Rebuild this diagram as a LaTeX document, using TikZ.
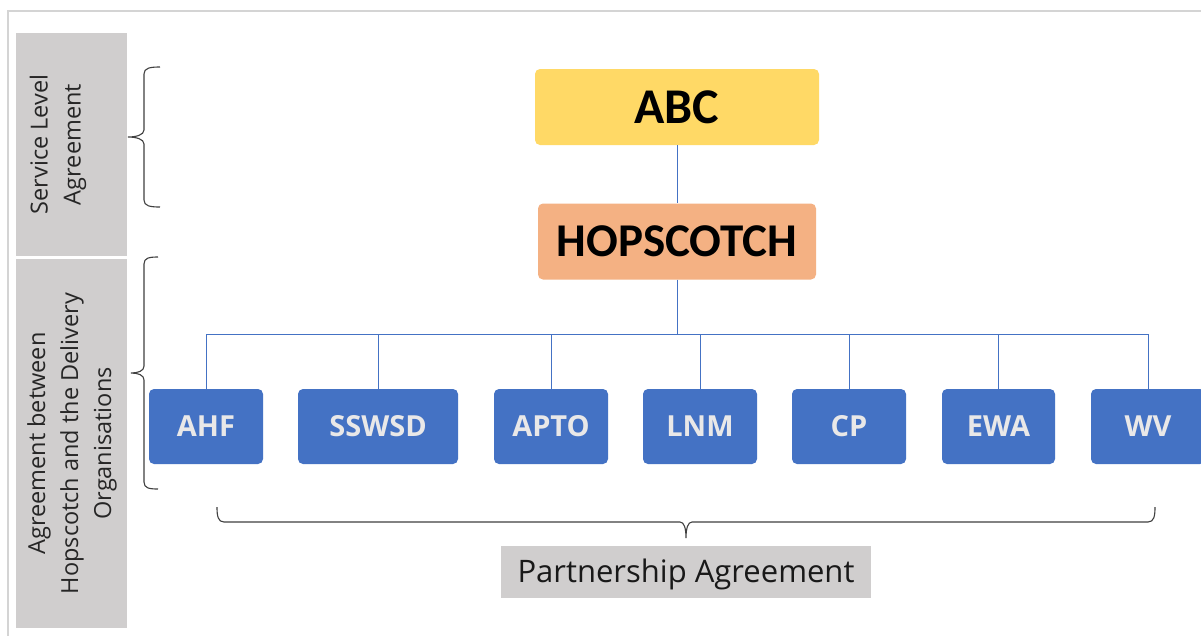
\documentclass[tikz,border=0pt]{standalone}
\usepackage{fontspec}
\setmainfont{Open Sans}
\newfontfamily\calfont{Carlito}
\definecolor{blueC}{HTML}{4472C4}
\definecolor{yellowC}{HTML}{FFD966}
\definecolor{orangeC}{HTML}{F4B183}
\definecolor{grayC}{HTML}{D0CECE}
\definecolor{frameC}{HTML}{D4D4D4}
\definecolor{braceC}{HTML}{404040}
\definecolor{labelC}{HTML}{E9E8E8}
\tikzset{
  topbox/.style={rounded corners=5pt, inner sep=0pt, font=\calfont\bfseries},
  orgbox/.style={rounded corners=5pt, fill=blueC, inner sep=0pt, minimum height=75pt,
     text=labelC, font=\fontsize{29}{31}\selectfont\bfseries},
  sidebox/.style={fill=grayC, inner sep=0pt},
  sidetext/.style={rotate=90, align=center, text=black!85, font=\fontsize{23.5}{33}\selectfont},
  link/.style={draw=blueC, line width=1pt},
  bracep/.style={draw=braceC, line width=1.1pt}
}
\begin{document}
\begin{tikzpicture}[x=1pt,y=-1pt]
\clip (0,0) rectangle (1201,635);
\fill[white] (0,0) rectangle (1201,635);
\draw[frameC, line width=2pt] (8,11) rectangle (1215,650);
% side boxes
\node[sidebox, minimum width=111pt, minimum height=223pt] (sla) at (71,144.5) {};
\node[sidetext] (slat) at (58,144.5) {Service Level\\Agreement};
\node[sidebox, minimum width=111pt, minimum height=369pt] (ado) at (71,443.5) {};
\node[sidetext] (adot) at (72,443.5) {Agreement between\\Hopscotch and the Delivery\\Organisations};
% braces
\draw[bracep] (160,67) .. controls (150,67) and (144,68) .. (144,74) -- (144,130)
  .. controls (144,135) and (136,137) .. (128,137)
  .. controls (136,137) and (144,139) .. (144,144) -- (144,200)
  .. controls (144,206) and (150,207) .. (160,207);
\draw[bracep] (158,257) .. controls (149,257) and (144,258) .. (144,264) -- (144,366)
  .. controls (144,371) and (138,373) .. (131,373)
  .. controls (138,373) and (144,375) .. (144,380) -- (144,482)
  .. controls (144,488) and (149,489) .. (158,489);
\draw[bracep] (217,507) .. controls (217,516) and (218,522) .. (224,522) -- (680,522)
  .. controls (684,522) and (686,528) .. (686,538)
  .. controls (686,528) and (688,522) .. (692,522) -- (1148,522)
  .. controls (1154,522) and (1155,516) .. (1155,507);
% top boxes
\node[topbox, fill=yellowC, minimum width=284pt, minimum height=76pt,
  font=\calfont\bfseries\fontsize{50}{52}\selectfont] (abc) at (677,107) {ABC};
\node[topbox, fill=orangeC, minimum width=278pt, minimum height=76pt,
  font=\calfont\bfseries\fontsize{47}{49}\selectfont] (hop) at (677,241.5) {HOPSCOTCH};
% org boxes
\node[orgbox, minimum width=114pt] (ahf) at (206,426.5) {AHF};
\node[orgbox, minimum width=160pt] (sswsd) at (378,426.5) {SSWSD};
\node[orgbox, minimum width=114pt] (apto) at (551,426.5) {APTO};
\node[orgbox, minimum width=114pt] (lnm) at (700,426.5) {LNM};
\node[orgbox, minimum width=114pt] (cp) at (849,426.5) {CP};
\node[orgbox, minimum width=113pt] (ewa) at (998.5,426.5) {EWA};
\node[orgbox, minimum width=114pt] (wv) at (1148,426.5) {WV};
% connectors
\coordinate (bus) at (677,334);
\draw[link] (abc) -- (hop);
\draw[link] (hop.south) -- (bus);
\draw[link] (ahf.north |- bus) -- (wv.north |- bus);
\foreach \n in {ahf,sswsd,apto,lnm,cp,ewa,wv}{
  \draw[link] (\n.north) -- (\n.north |- bus);
}
% partnership
\node[fill=grayC, minimum width=370pt, minimum height=52pt, inner sep=0pt] (pa) at (686,571.5) {};
\node[text=black!90, font=\fontsize{31}{33}\selectfont, inner sep=0pt] (pat) at (686,574) {Partnership Agreement};
\end{tikzpicture}
\end{document}
